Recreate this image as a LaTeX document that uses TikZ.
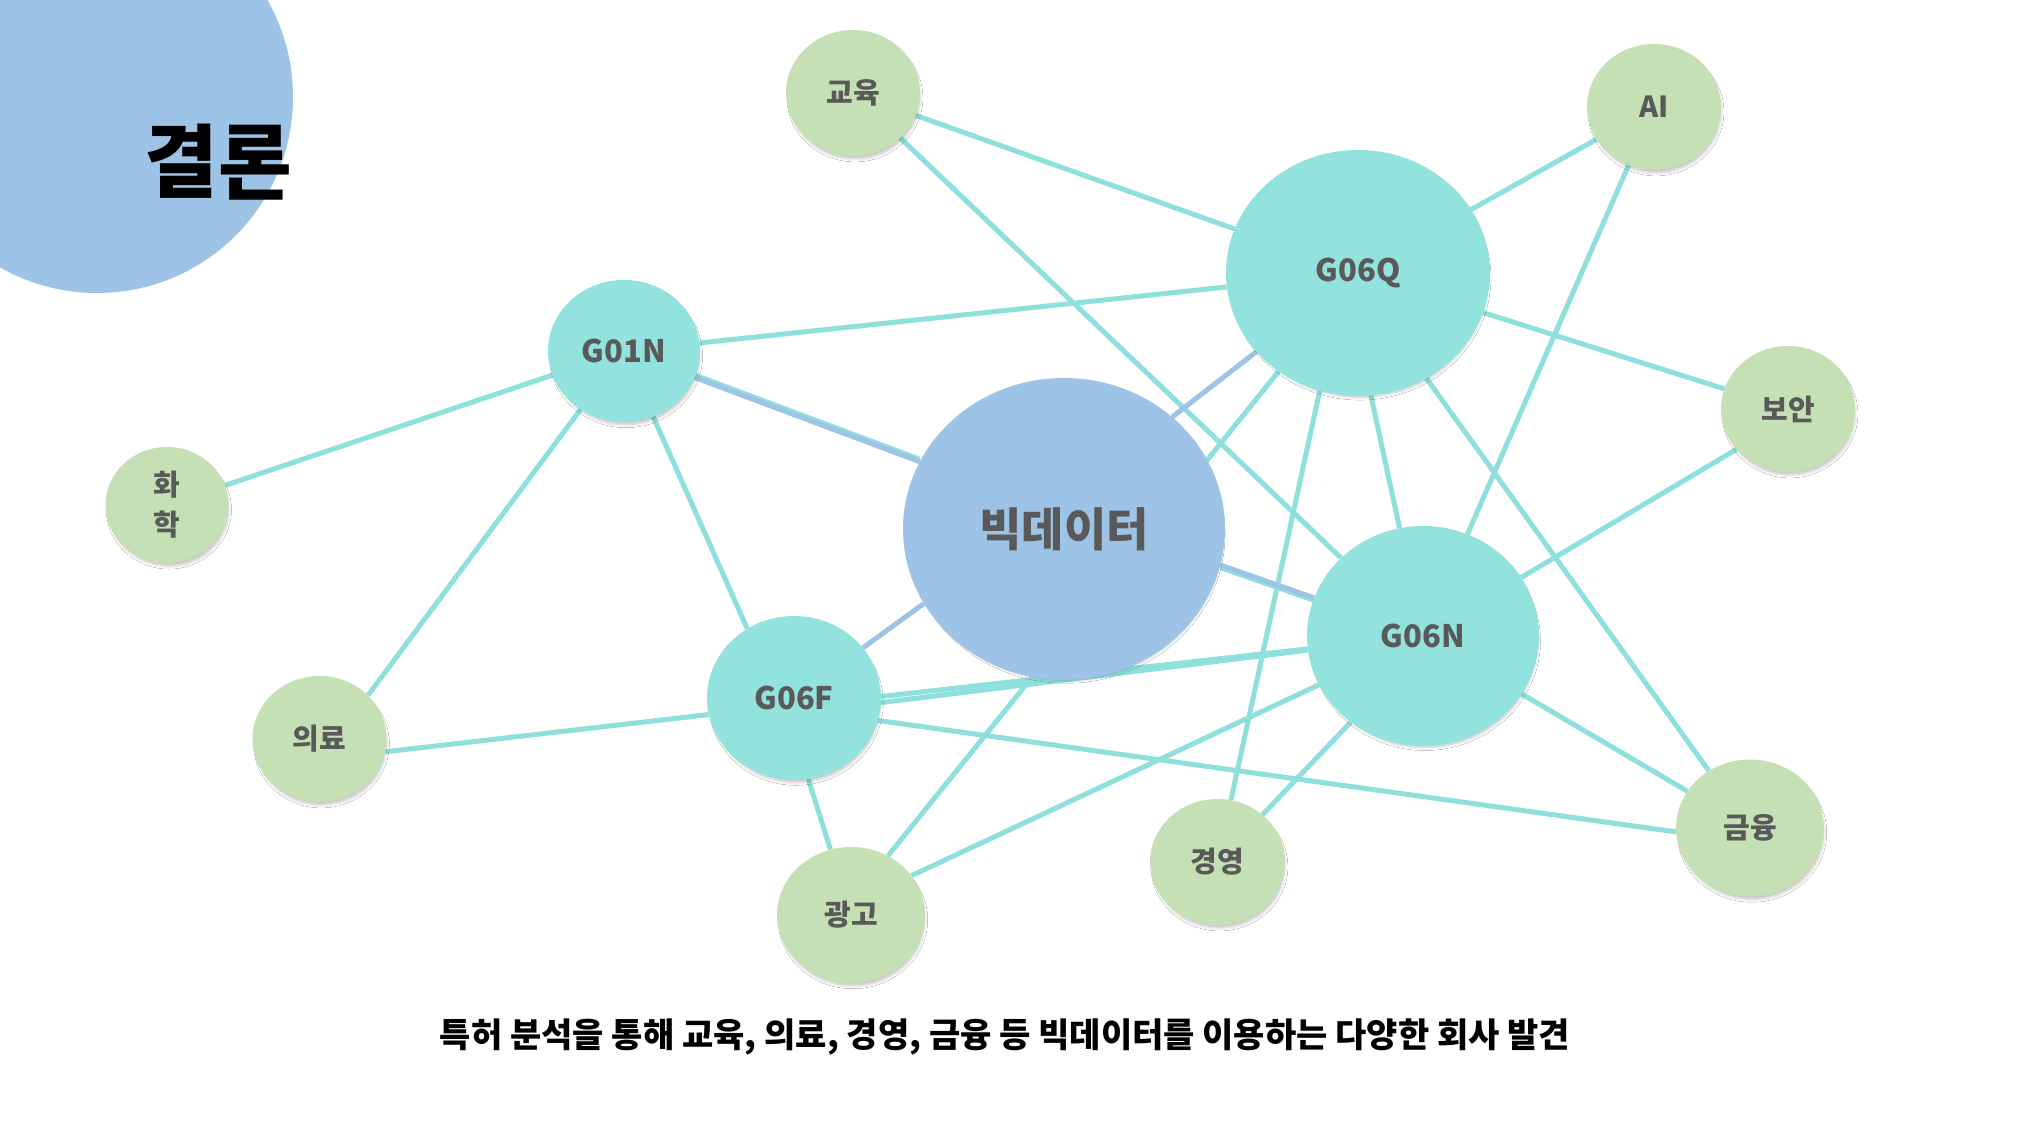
\documentclass[tikz,border=0pt]{standalone}
\usepackage{fontspec}
\setmainfont{Noto Sans CJK KR}
\usetikzlibrary{shapes.geometric,shadows.blur}
\definecolor{tealfill}{HTML}{92E2DE}
\definecolor{edgeteal}{HTML}{8EE0DC}
\definecolor{greenfill}{HTML}{C5E0B4}
\definecolor{bluefill}{HTML}{9DC3E6}
\definecolor{txtgray}{HTML}{595959}
\pgfdeclarelayer{bg}
\pgfsetlayers{bg,main}
\begin{document}
\begin{tikzpicture}[x=1pt,y=-1pt,
  bubble/.style={ellipse,inner sep=0pt,text=txtgray,
    blur shadow={shadow xshift=2pt,shadow yshift=-5pt,shadow blur radius=3pt,shadow opacity=22,shadow scale=0.97}},
  sz/.style 2 args={minimum width=#1pt,minimum height=#2pt},
  gnode/.style={bubble,fill=tealfill,font=\bfseries\fontsize{31}{36}\selectfont},
  kw/.style={bubble,fill=greenfill,font=\bfseries\fontsize{29}{40}\selectfont},
  link/.style={draw=edgeteal,line width=5pt},
  tlink/.style={draw=edgeteal,line width=3pt},
  blink/.style={draw=bluefill,line width=5pt}]
\useasboundingbox (0,0) rectangle (2028,1139);
\clip (0,0) rectangle (2028,1139);

% nodes
\node[kw,sz={134}{126}] (edu) at (853,93) {교육};
\node[kw,sz={134}{126}] (ai) at (1654,107) {AI};
\node[gnode,sz={264}{246}] (q) at (1358,273) {G06Q};
\node[gnode,sz={152}{142}] (g01n) at (624,351) {G01N};
\node[kw,sz={134}{126}] (sec) at (1788,409) {보안};
\node[kw,sz={123}{116},align=center] (chem) at (167,505) {화\\학};
\node[bubble,fill=bluefill,sz={322}{302},font=\bfseries\fontsize{46}{52}\selectfont] (bd) at (1064,529) {빅데이터};
\node[gnode,sz={232}{220}] (n) at (1423,636) {G06N};
\node[gnode,sz={174}{164}] (f) at (794,698) {G06F};
\node[kw,sz={134}{126}] (med) at (319.5,739) {의료};
\node[kw,sz={135}{126}] (mgmt) at (1217.5,862) {경영};
\node[kw,sz={148}{137}] (fin) at (1750,828) {금융};
\node[kw,sz={148}{136}] (ad) at (851,915) {광고};

\node[font=\bfseries\fontsize{80}{90}\selectfont,text=black] (title) at (218,162) {결론};
\node[font=\bfseries\fontsize{34}{40}\selectfont,text=black] (caption) at (1005,1037)
  {특허 분석을 통해 교육, 의료, 경영, 금융 등 빅데이터를 이용하는 다양한 회사 발견};

\begin{pgfonlayer}{bg}
\fill[white] (0,0) rectangle (2028,1139);
\fill[bluefill] (97,97) circle (196);
% plain links
\path[link] (edu) -- (q);
\path[link] (edu) -- (n);
\path[link] (ai) -- (q);
\path[link] (ai) -- (n);
\path[link] (g01n) -- (q);
\path[link] (g01n) -- (chem);
\path[link] (g01n) -- (med.42);
\path[link] (g01n) -- (f.124);
\path[link] (q) -- (sec);
\path[link] (q) -- (ad.58);
\path[link] (q.-108) -- (mgmt);
\path[link] (q.-84) -- (n);
\path[link] (q.-57) -- (fin);
\path[link] (n) -- (sec.218);
\path[link] (n) -- (f.1);
\path[link] (n) -- (f.-3);
\path[link] (f.-15) -- (fin.183);
\path[link] (f.191) -- (med.-11);
\path[link] (ad) -- (f.-80);
\path[link] (n) -- (ad.33);
\path[link] (mgmt) -- (n.230);
\path[link] (n) -- (fin);
% doubled links of the big node
\path[tlink,transform canvas={shift={(0pt,3.5pt)}}] (g01n) -- (bd.155);
\path[blink] (g01n) -- (bd.155);
\path[tlink,transform canvas={shift={(-2.5pt,-2.5pt)}}] (q) -- (bd.46);
\path[blink] (q) -- (bd.46);
\path[tlink,transform canvas={shift={(0pt,-3.5pt)}}] (n) -- (bd.-13);
\path[blink] (n) -- (bd.-13);
\path[tlink,transform canvas={shift={(-2.5pt,-2.5pt)}}] (f) -- (bd.208);
\path[blink] (f) -- (bd.208);
\end{pgfonlayer}
\end{tikzpicture}
\end{document}
